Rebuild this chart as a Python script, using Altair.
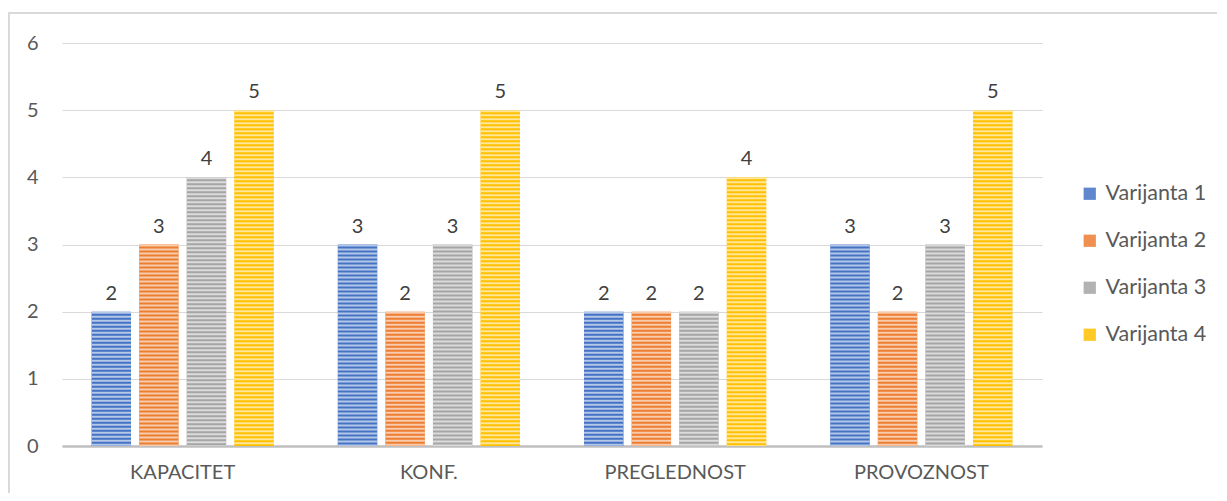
import altair as alt
import pandas as pd

categories = ["KAPACITET", "KONF.", "PREGLEDNOST", "PROVOZNOST"]
series = ["Varijanta 1", "Varijanta 2", "Varijanta 3", "Varijanta 4"]
values = {
    "Varijanta 1": [2, 3, 2, 3],
    "Varijanta 2": [3, 2, 2, 2],
    "Varijanta 3": [4, 3, 2, 3],
    "Varijanta 4": [5, 5, 4, 5],
}
colors = ["#4472C4", "#ED7D31", "#A5A5A5", "#FFC000"]
tints = ["#B4C7E7", "#F8CBAD", "#DBDBDB", "#FFE699"]
y_ticks = [0, 1, 2, 3, 4, 5, 6]

rows = []
for s in series:
    for c, v in zip(categories, values[s]):
        rows.append({"cat": c, "series": s, "value": v, "zero": 0})
df = pd.DataFrame(rows)

FONT = "Lato"
FS = 20
W, H = 980, 403

x = alt.X("cat:N", sort=categories, title=None,
          scale=alt.Scale(paddingInner=0.26, paddingOuter=0.12),
          axis=alt.Axis(labelAngle=0, labelFontSize=FS, labelColor="#595959",
                        labelFont=FONT, ticks=False, domain=True,
                        domainColor="#BFBFBF", domainWidth=2.5, labelPadding=16,
                        grid=False))
xo = alt.XOffset("series:N", sort=series,
                 scale=alt.Scale(paddingInner=0.17, paddingOuter=0))
y = alt.Y("value:Q", title=None,
          scale=alt.Scale(domain=[0, 6], nice=False),
          axis=alt.Axis(values=y_ticks, format="d", labelFontSize=FS,
                        labelColor="#595959", labelFont=FONT, ticks=False,
                        domain=False, gridColor="#D9D9D9", gridWidth=1,
                        labelPadding=24))

bars = alt.Chart(df).mark_bar().encode(
    x=x, xOffset=xo, y=y,
    color=alt.Color("series:N", sort=series,
                    scale=alt.Scale(domain=series, range=colors),
                    legend=alt.Legend(title=None, orient="none", legendX=1017,
                                      legendY=140, symbolType="square",
                                      symbolSize=150, labelFontSize=21.5,
                                      labelColor="#595959", labelFont=FONT,
                                      rowPadding=24, symbolStrokeWidth=0,
                                      symbolOpacity=0.85, labelOffset=5)),
)

stripes = alt.Chart(df).mark_rule(strokeWidth=39.5, strokeDash=[2, 2],
                                  strokeCap="butt").encode(
    x=alt.X("cat:N", sort=categories),
    xOffset=alt.XOffset("series:N", sort=series),
    y="value:Q", y2="zero:Q",
    color=alt.Color("series:N", sort=series,
                    scale=alt.Scale(domain=series, range=tints),
                    legend=None),
)

labels = alt.Chart(df).mark_text(baseline="bottom", dy=-8, fontSize=FS,
                                 font=FONT, color="#404040").encode(
    x=alt.X("cat:N", sort=categories), xOffset=alt.XOffset("series:N", sort=series),
    y="value:Q", text=alt.Text("value:Q", format="d"),
)

frame = alt.Chart(df).mark_rect(fill=None, stroke="#D9D9D9", strokeWidth=1.5).encode(
    x=alt.value(-53), x2=alt.value(1250), y=alt.value(-30), y2=alt.value(520)
)

chart = alt.layer(frame, bars, stripes, labels).resolve_scale(
    color="independent"
).properties(
    width=W, height=H,
    padding={"left": 54, "top": 35, "right": 175, "bottom": 47},
    autosize=alt.AutoSizeParams(type="none"),
).configure_view(stroke=None)

chart.save("out.html", embed_options={"renderer": "svg", "actions": False})
